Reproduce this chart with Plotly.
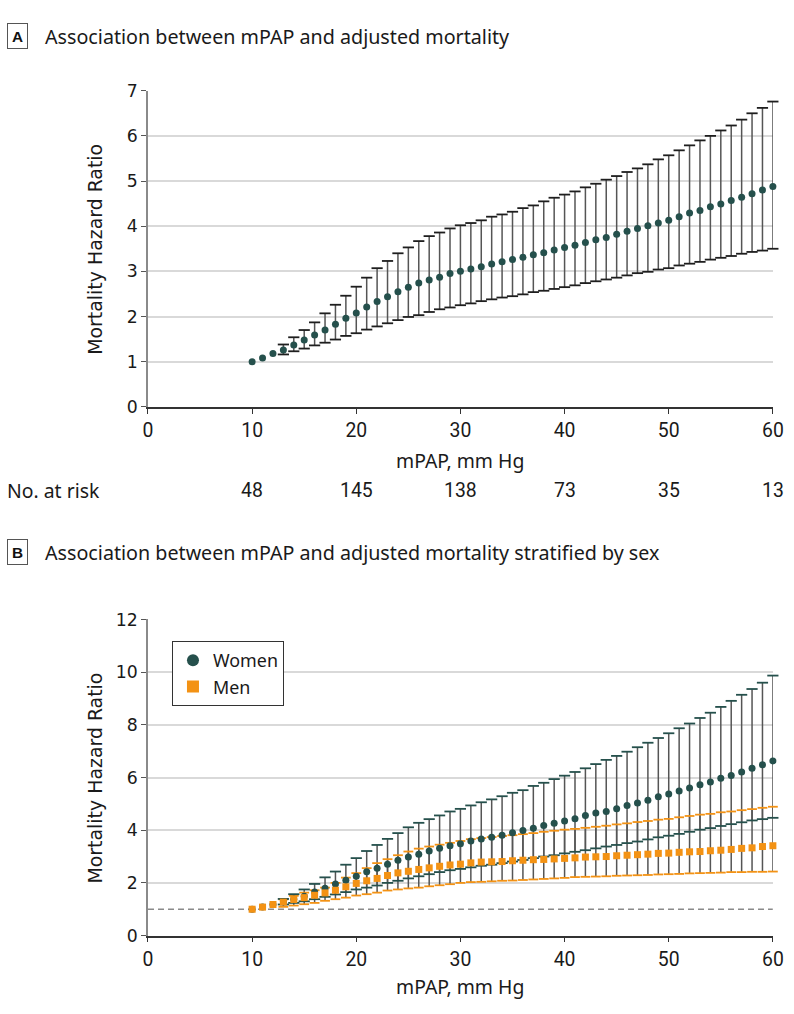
import math
import plotly.graph_objects as go

# ---------------- data ----------------
MPAP = list(range(10, 61))  # mm Hg

# Panel A: overall adjusted mortality HR with 95% CI
HR_ALL = [1.00, 1.08, 1.18, 1.26, 1.37, 1.48, 1.59, 1.70, 1.83, 1.96, 2.08,
          2.21, 2.33, 2.44, 2.55, 2.65, 2.74, 2.81, 2.87, 2.95, 3.00,
          3.05, 3.10, 3.16, 3.21, 3.26, 3.31, 3.37, 3.41, 3.47, 3.53,
          3.58, 3.64, 3.70, 3.75, 3.82, 3.89, 3.95, 4.01, 4.07, 4.13,
          4.21, 4.29, 4.35, 4.43, 4.49, 4.57, 4.64, 4.72, 4.80, 4.88]
UPPER_ALL = [None, None, None, 1.38, 1.54, 1.70, 1.87, 2.07, 2.26, 2.46, 2.66,
             2.86, 3.07, 3.23, 3.40, 3.53, 3.67, 3.78, 3.86, 3.95, 4.02,
             4.07, 4.13, 4.21, 4.26, 4.32, 4.40, 4.46, 4.55, 4.63, 4.70,
             4.77, 4.86, 4.94, 5.03, 5.11, 5.20, 5.28, 5.37, 5.48, 5.57,
             5.68, 5.79, 5.90, 6.00, 6.12, 6.23, 6.36, 6.50, 6.62, 6.76]
LOWER_ALL = [None, None, None, 1.16, 1.23, 1.29, 1.36, 1.42, 1.49, 1.57, 1.63,
             1.71, 1.78, 1.85, 1.92, 1.99, 2.03, 2.10, 2.16, 2.20, 2.25,
             2.29, 2.34, 2.38, 2.42, 2.45, 2.49, 2.54, 2.57, 2.61, 2.65,
             2.69, 2.74, 2.78, 2.82, 2.86, 2.91, 2.96, 2.99, 3.04, 3.07,
             3.13, 3.17, 3.21, 3.26, 3.30, 3.34, 3.39, 3.43, 3.46, 3.50]

AT_RISK_X = [10, 20, 30, 40, 50, 60]
AT_RISK_N = [48, 145, 138, 73, 35, 13]

# Panel B: stratified by sex
HR_WOMEN = [1.00, 1.08, 1.18, 1.28, 1.38, 1.49, 1.65, 1.80, 1.96, 2.10, 2.25,
            2.42, 2.56, 2.71, 2.86, 2.98, 3.09, 3.21, 3.31, 3.41, 3.49,
            3.59, 3.67, 3.73, 3.81, 3.90, 3.99, 4.07, 4.18, 4.26, 4.35,
            4.43, 4.56, 4.65, 4.71, 4.81, 4.94, 5.03, 5.14, 5.27, 5.37,
            5.49, 5.60, 5.73, 5.83, 5.97, 6.08, 6.21, 6.35, 6.48, 6.63]
UPPER_WOMEN = [None, None, None, 1.39, 1.57, 1.75, 1.96, 2.21, 2.43, 2.69, 2.94,
               3.21, 3.44, 3.67, 3.89, 4.11, 4.28, 4.42, 4.56, 4.71, 4.81,
               4.94, 5.06, 5.17, 5.29, 5.42, 5.52, 5.68, 5.80, 5.94, 6.07,
               6.21, 6.35, 6.51, 6.67, 6.82, 6.98, 7.15, 7.32, 7.50, 7.68,
               7.87, 8.05, 8.26, 8.46, 8.68, 8.91, 9.14, 9.36, 9.60, 9.87]
LOWER_WOMEN = [None, None, None, 1.18, 1.24, 1.30, 1.38, 1.47, 1.56, 1.65, 1.75,
               1.82, 1.90, 2.00, 2.08, 2.17, 2.25, 2.33, 2.41, 2.48, 2.53,
               2.59, 2.65, 2.69, 2.75, 2.81, 2.87, 2.94, 3.00, 3.05, 3.12,
               3.18, 3.24, 3.31, 3.38, 3.44, 3.51, 3.57, 3.65, 3.73, 3.79,
               3.86, 3.94, 4.02, 4.08, 4.16, 4.23, 4.30, 4.37, 4.42, 4.47]

HR_MEN = [1.00, 1.08, 1.18, 1.27, 1.37, 1.44, 1.53, 1.62, 1.72, 1.85, 1.98,
          2.08, 2.17, 2.28, 2.38, 2.44, 2.51, 2.57, 2.63, 2.68, 2.71,
          2.76, 2.79, 2.80, 2.81, 2.84, 2.86, 2.88, 2.89, 2.91, 2.93,
          2.95, 2.98, 2.99, 3.00, 3.03, 3.05, 3.07, 3.09, 3.12, 3.13,
          3.16, 3.18, 3.19, 3.22, 3.24, 3.27, 3.31, 3.33, 3.38, 3.41]
UPPER_MEN = [None, None, None, 1.37, 1.51, 1.63, 1.72, 1.82, 2.00, 2.20, 2.37,
             2.56, 2.75, 2.90, 3.05, 3.19, 3.30, 3.38, 3.45, 3.52, 3.59,
             3.66, 3.70, 3.74, 3.78, 3.81, 3.85, 3.89, 3.94, 3.98, 4.02,
             4.05, 4.09, 4.13, 4.17, 4.22, 4.26, 4.31, 4.35, 4.40, 4.43,
             4.49, 4.54, 4.59, 4.62, 4.68, 4.71, 4.76, 4.80, 4.85, 4.89]
LOWER_MEN = [None, None, None, 1.09, 1.14, 1.19, 1.24, 1.32, 1.38, 1.44, 1.52,
             1.57, 1.63, 1.71, 1.75, 1.79, 1.82, 1.87, 1.91, 1.95, 2.00,
             2.03, 2.04, 2.06, 2.08, 2.09, 2.11, 2.13, 2.15, 2.17, 2.19,
             2.22, 2.23, 2.24, 2.25, 2.27, 2.28, 2.29, 2.30, 2.32, 2.33,
             2.34, 2.36, 2.37, 2.38, 2.39, 2.41, 2.41, 2.42, 2.42, 2.43]

REFERENCE_HR = 1
X_TICKS = [0, 10, 20, 30, 40, 50, 60]
Y_TICKS_A = [0, 1, 2, 3, 4, 5, 6, 7]
Y_TICKS_B = [0, 2, 4, 6, 8, 10, 12]

# ---------------- styling ----------------
W, H = 794, 1014
# calibration of the photographed page (slight shrink / shift)
SC, BX, BY = 0.98, 5.0, 10.0
TEAL = "#25504c"
ORANGE = "#f39214"
BAR_GRAY = "#555555"
CAP_DARK = "#1e1e1e"
GRID = "#d9d9d9"
REG = "Noto Sans, DejaVu Sans, sans-serif"
NARROW = "Liberation Sans Narrow, Arial Narrow, Roboto, sans-serif"
DJV = "DejaVu Sans, sans-serif"


def px_x(r):
    return max((r - BX) / SC, 0) / W


def px_y(r):
    return 1 - ((r - BY) / SC) / H


def fs(s):
    return round(s / SC, 1)


def plus(hr, up):
    return [(u - h) if u is not None else math.nan for h, u in zip(hr, up)]


def minus(hr, lo):
    return [(h - l) if l is not None else math.nan for h, l in zip(hr, lo)]


def nn(v):
    return [x if x is not None else math.nan for x in v]


def ci_lines(hr, up, lo, xa, ya):
    return go.Scatter(
        x=MPAP, y=hr, mode="markers", xaxis=xa, yaxis=ya, showlegend=False,
        marker=dict(color="rgba(0,0,0,0)", size=1),
        error_y=dict(type="data", symmetric=False, array=plus(hr, up),
                     arrayminus=minus(hr, lo), color=BAR_GRAY,
                     thickness=1.5, width=0),
        cliponaxis=False, hoverinfo="skip")


def caps(vals, col, xa, ya, size):
    return go.Scatter(
        x=MPAP, y=nn(vals), mode="markers", xaxis=xa, yaxis=ya,
        showlegend=False, cliponaxis=False, hoverinfo="skip",
        marker=dict(symbol="line-ew", size=size, color=col,
                    line=dict(color=col, width=1.8)))


fig = go.Figure()

# ----- Panel A -----
fig.add_trace(ci_lines(HR_ALL, UPPER_ALL, LOWER_ALL, "x", "y"))
fig.add_trace(caps(UPPER_ALL, CAP_DARK, "x", "y", 8))
fig.add_trace(caps(LOWER_ALL, CAP_DARK, "x", "y", 8))
fig.add_trace(go.Scatter(
    x=MPAP, y=HR_ALL, mode="markers", xaxis="x", yaxis="y", showlegend=False,
    marker=dict(color=TEAL, size=7, symbol="circle"), cliponaxis=False))

# ----- Panel B -----
fig.add_trace(ci_lines(HR_MEN, UPPER_MEN, LOWER_MEN, "x2", "y2"))
fig.add_trace(ci_lines(HR_WOMEN, UPPER_WOMEN, LOWER_WOMEN, "x2", "y2"))
fig.add_trace(caps(UPPER_MEN, ORANGE, "x2", "y2", 7))
fig.add_trace(caps(LOWER_MEN, ORANGE, "x2", "y2", 7))
fig.add_trace(caps(UPPER_WOMEN, TEAL, "x2", "y2", 8))
fig.add_trace(caps(LOWER_WOMEN, TEAL, "x2", "y2", 8))
fig.add_trace(go.Scatter(
    x=MPAP, y=HR_WOMEN, mode="markers", xaxis="x2", yaxis="y2", name="Women",
    marker=dict(color=TEAL, size=7, symbol="circle"), cliponaxis=False))
fig.add_trace(go.Scatter(
    x=MPAP, y=HR_MEN, mode="markers", xaxis="x2", yaxis="y2", name="Men",
    marker=dict(color=ORANGE, size=7, symbol="square"), cliponaxis=False))

# reference line at HR = 1
fig.add_shape(type="line", xref="x2", yref="y2", x0=X_TICKS[0], x1=X_TICKS[-1],
              y0=REFERENCE_HR, y1=REFERENCE_HR,
              line=dict(color="#8a8a8a", width=1.6, dash="6px,4px"), layer="below")

xdom = [px_x(148), px_x(773)]
common_x = dict(range=[0, 60], tickvals=X_TICKS, ticks="outside", ticklen=5,
                tickwidth=1.4, tickcolor="#333", showline=True, linecolor="#333",
                linewidth=1.5, showgrid=False, zeroline=False, domain=xdom,
                ticklabeloverflow="allow",
                tickfont=dict(family=NARROW, size=fs(19), color="#1a1a1a"))
common_y = dict(ticks="outside", ticklen=5, tickwidth=1.4, tickcolor="#555",
                showline=True, linecolor="#8a8a8a", linewidth=1.5,
                showgrid=True, gridcolor=GRID, gridwidth=1.5, zeroline=False,
                tickfont=dict(family=DJV, size=fs(17), color="#1a1a1a"))

fig.update_layout(
    width=W, height=H, autosize=False,
    margin=dict(l=0, r=0, t=0, b=0, pad=0),
    paper_bgcolor="white", plot_bgcolor="white",
    font=dict(family=REG, color="#1a1a1a"),
    xaxis=dict(**common_x, anchor="y"),
    yaxis=dict(**common_y, anchor="x", range=[0, 7], tickvals=Y_TICKS_A,
               domain=[px_y(406.7), px_y(90.7)]),
    xaxis2=dict(**common_x, anchor="y2"),
    yaxis2=dict(**common_y, anchor="x2", range=[0, 12], tickvals=Y_TICKS_B,
                domain=[px_y(935.3), px_y(619.3)]),
    legend=dict(x=px_x(172), y=px_y(641), xanchor="left", yanchor="top",
                bordercolor="#333", borderwidth=1, bgcolor="white",
                font=dict(family=REG, size=fs(17.5), color="#1a1a1a"),
                itemsizing="constant", itemwidth=30, tracegroupgap=0),
    showlegend=True,
)

ann = []
for letter, yc, title in [("A", 36, "Association between mPAP and adjusted mortality"),
                          ("B", 552, "Association between mPAP and adjusted mortality stratified by sex")]:
    ann.append(dict(text="<b>%s</b>" % letter, x=px_x(7), y=px_y(yc), xref="paper",
                    yref="paper", xanchor="left", yanchor="middle", showarrow=False,
                    font=dict(family="Liberation Sans, Arial, sans-serif", size=fs(15), color="#111"),
                    bordercolor="#555", borderwidth=1, borderpad=1, width=17, height=22,
                    bgcolor="white"))
    ann.append(dict(text=title, x=px_x(43), y=px_y(yc), xref="paper", yref="paper",
                    xanchor="left", yanchor="middle", showarrow=False,
                    font=dict(family=REG, size=fs(19.3), color="#1a1a1a")))
for yc in [248.7, 777.3]:
    ann.append(dict(text="Mortality Hazard Ratio", x=px_x(95), y=px_y(yc),
                    xref="paper", yref="paper", textangle=-90, showarrow=False,
                    xanchor="center", yanchor="middle",
                    font=dict(family=DJV, size=fs(18.5), color="#1a1a1a")))
for yc in [460, 986]:
    ann.append(dict(text="mPAP, mm Hg", x=px_x(460.5), y=px_y(yc), xref="paper",
                    yref="paper", showarrow=False, xanchor="center", yanchor="middle",
                    font=dict(family=REG, size=fs(19), color="#1a1a1a")))
ann.append(dict(text="No. at risk", x=px_x(5), y=px_y(490), xref="paper", yref="paper",
                xanchor="left", yanchor="middle", showarrow=False,
                font=dict(family=REG, size=fs(19), color="#1a1a1a")))
for xv, n in zip(AT_RISK_X, AT_RISK_N):
    ann.append(dict(text=str(n), x=xv, y=px_y(490), xref="x", yref="paper",
                    xanchor="center", yanchor="middle", showarrow=False,
                    font=dict(family=NARROW, size=fs(19), color="#1a1a1a")))
fig.update_layout(annotations=ann)

fig.write_html("out.html", config={"displayModeBar": False},
               post_script="document.body.style.margin='0';"
                           "document.documentElement.style.overflow='hidden';")
